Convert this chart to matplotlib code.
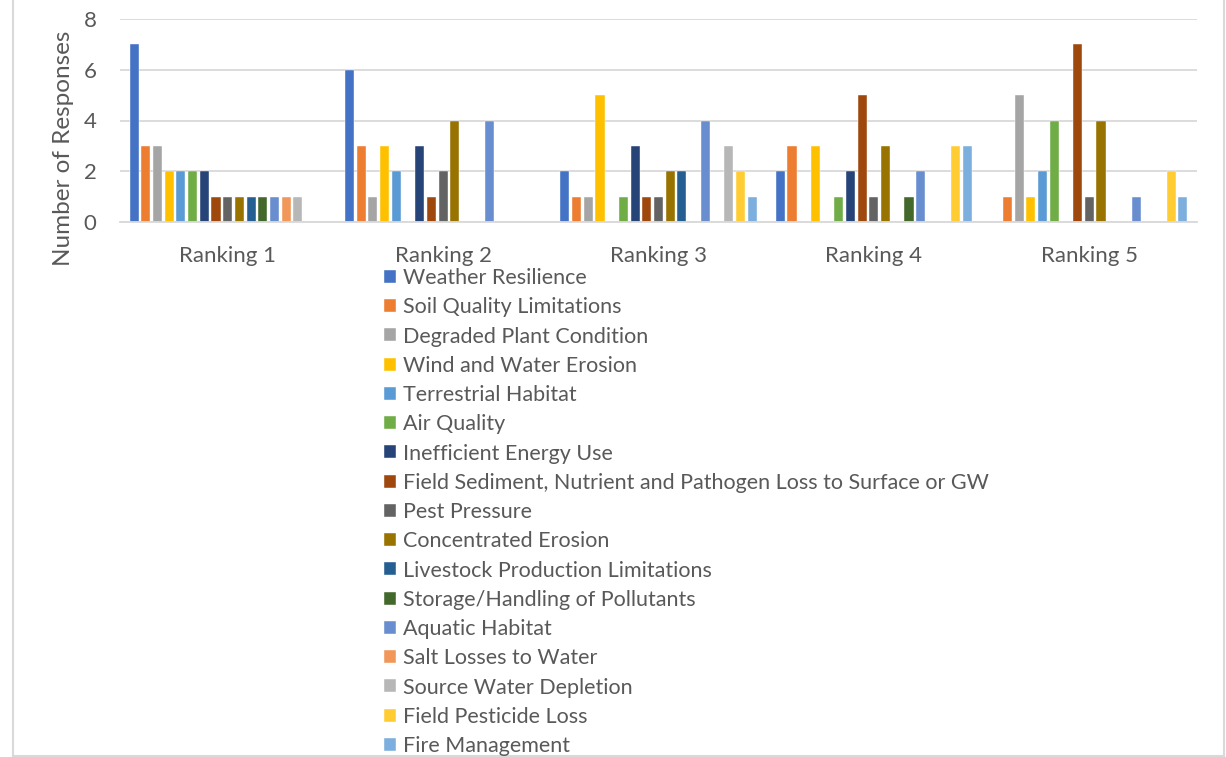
import numpy as np
import matplotlib.pyplot as plt
from matplotlib.lines import Line2D

plt.rcParams['font.family'] = ['Lato', 'DejaVu Sans']

rankings = ['Ranking 1', 'Ranking 2', 'Ranking 3', 'Ranking 4', 'Ranking 5']

concerns = ['Weather Resilience', 'Soil Quality Limitations', 'Degraded Plant Condition',
            'Wind and Water Erosion', 'Terrestrial Habitat', 'Air Quality',
            'Inefficient Energy Use', 'Field Sediment, Nutrient and Pathogen Loss to Surface or GW',
            'Pest Pressure', 'Concentrated Erosion', 'Livestock Production Limitations',
            'Storage/Handling of Pollutants', 'Aquatic Habitat', 'Salt Losses to Water',
            'Source Water Depletion', 'Field Pesticide Loss', 'Fire Management']

# responses per concern, one column per ranking
weather      = [7, 6, 2, 2, 0]
soil         = [3, 3, 1, 3, 1]
plant        = [3, 1, 1, 0, 5]
wind_water   = [2, 3, 5, 3, 1]
terrestrial  = [2, 2, 0, 0, 2]
air          = [2, 0, 1, 1, 4]
energy       = [2, 3, 3, 2, 0]
sediment     = [1, 1, 1, 5, 7]
pest         = [1, 2, 1, 1, 1]
concentrated = [1, 4, 2, 3, 4]
livestock    = [1, 0, 2, 0, 0]
storage      = [1, 0, 0, 1, 0]
aquatic      = [1, 4, 4, 2, 1]
salt         = [1, 0, 0, 0, 0]
source_water = [1, 0, 3, 0, 0]
pesticide    = [0, 0, 2, 3, 2]
fire         = [0, 0, 1, 3, 1]

values = [weather, soil, plant, wind_water, terrestrial, air, energy, sediment, pest,
          concentrated, livestock, storage, aquatic, salt, source_water, pesticide, fire]

colors = ['#4472C4', '#ED7D31', '#A5A5A5', '#FFC000', '#5B9BD5', '#70AD47', '#264478',
          '#9E480E', '#636363', '#997300', '#255E91', '#43682B', '#698ED0', '#F1975A',
          '#B7B7B7', '#FFCD33', '#7CAFDD']

fig = plt.figure(figsize=(12.26, 7.57), dpi=100)
ax = fig.add_axes([120/1226, 1-222/757, (1197-120)/1226, (222-19)/757])

x = np.arange(len(rankings))
slot = 0.0543
n = len(concerns)
for i in range(n):
    ax.bar(x + (i - (n - 1) / 2) * slot, values[i], width=slot * 0.78,
           color=colors[i], label=concerns[i], edgecolor='white', linewidth=0.3)

ax.set_xlim(-0.5, 4.5)
ax.set_ylim(0, 8)
ax.set_yticks([0, 2, 4, 6, 8])
ax.set_xticks(x)
ax.set_xticklabels(rankings)
ax.yaxis.grid(True, color='#D9D9D9', linewidth=1.3)
ax.set_axisbelow(True)
for s in ['top', 'right', 'left']:
    ax.spines[s].set_visible(False)
ax.spines['bottom'].set_color('#D9D9D9')
ax.spines['bottom'].set_linewidth(1.3)
ax.tick_params(axis='both', length=0, colors='#595959')
ax.tick_params(axis='y', labelsize=16, pad=17)
ax.tick_params(axis='x', labelsize=16, pad=17)
ax.set_ylabel('Number of Responses', fontsize=17.5, color='#595959')
ax.yaxis.set_label_coords(-0.043, 0.365)

fig.legend(loc='upper left', bbox_to_anchor=(384/1226, 1-268/757), frameon=False,
           fontsize=15.5, labelcolor='#595959', handlelength=0.55, handleheight=0.55,
           handletextpad=0.35, labelspacing=0.43, borderpad=0, borderaxespad=0)

# thin border around the chart area
fig.add_artist(Line2D([13/1226, 13/1226], [0, 1], color='#D9D9D9', lw=1.5))
fig.add_artist(Line2D([1224/1226, 1224/1226], [0, 1], color='#D9D9D9', lw=1.5))
fig.add_artist(Line2D([13/1226, 1224/1226], [1/757, 1/757], color='#D9D9D9', lw=1.5))

fig.savefig('out.png', dpi=100)
